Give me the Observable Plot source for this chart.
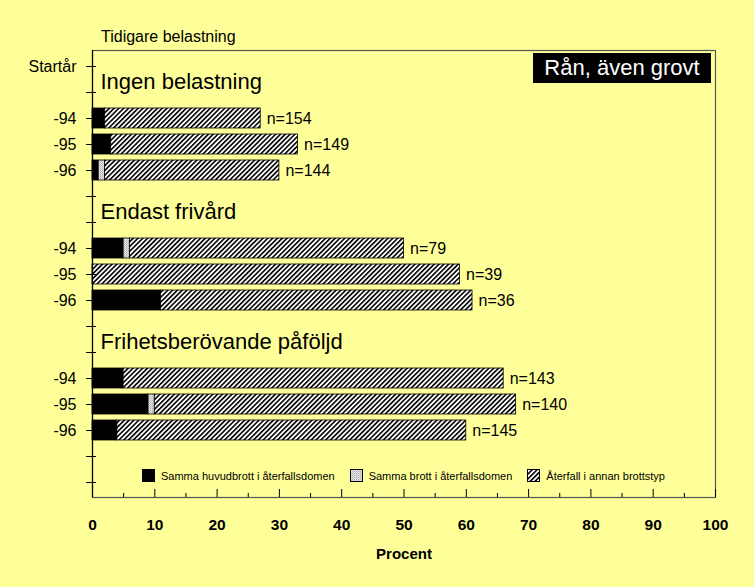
<!DOCTYPE html>
<html>
<head>
<meta charset="utf-8">
<script src="https://cdn.jsdelivr.net/npm/d3@7"></script>
<script src="https://cdn.jsdelivr.net/npm/@observablehq/plot@0.6"></script>
<style>
  body { margin: 0; background: #FFFF99; }
  #wrap { position: relative; width: 754px; height: 587px; background: #FFFF99; font-family: Arial, "Liberation Sans", sans-serif; color: black; overflow: hidden; }
  #subtitle { position: absolute; left: 101px; top: 28px; font-size: 16px; line-height: 18px; }
  #badge { position: absolute; left: 533px; top: 53px; width: 178px; height: 30px; background: black; color: white; font-size: 22px; line-height: 30px; text-align: center; }
  #legend { position: absolute; left: 142px; top: 469px; display: flex; gap: 15px; align-items: center; font-size: 11px; }
  #legend .item { display: flex; align-items: center; gap: 6px; }
  #legend svg { display: block; }
</style>
</head>
<body>
<svg width="0" height="0" style="position:absolute">
  <defs>
    <pattern id="hatch" patternUnits="userSpaceOnUse" width="3.4" height="3.4" patternTransform="rotate(45)">
      <rect width="3.4" height="3.4" fill="white"/>
      <rect width="1.6" height="3.4" fill="black"/>
    </pattern>
    <pattern id="dots" patternUnits="userSpaceOnUse" width="2" height="2">
      <rect width="2" height="2" fill="#e8e8e8"/>
      <rect width="1" height="1" fill="#a8a8a8"/>
      <rect x="1" y="1" width="1" height="1" fill="#c8c8c8"/>
    </pattern>
  </defs>
</svg>
<div id="wrap">
  <div id="subtitle">Tidigare belastning</div>
  <div id="badge">Rån, även grovt</div>
  <div id="legend"></div>
</div>
<script>
// ---- data ----
const groups = ["Ingen belastning", "Endast frivård", "Frihetsberövande påföljd"];
const years = ["-94", "-95", "-96"];
const sammaHuvudbrott = [2, 3, 1, 5, 0, 11, 5, 9, 4];
const sammaBrott = [0, 0, 1, 1, 0, 0, 0, 1, 0];
const annanBrottstyp = [25, 30, 28, 44, 59, 50, 61, 58, 56];
const nValues = [154, 149, 144, 79, 39, 36, 143, 140, 145];
const xTicks = [0, 10, 20, 30, 40, 50, 60, 70, 80, 90, 100];
const xMinorTicks = [5, 15, 25, 35, 45, 55, 65, 75, 85, 95];
const legendLabels = ["Samma huvudbrott i återfallsdomen", "Samma brott i återfallsdomen", "Återfall i annan brottstyp"];
const legendFills = ["black", "url(#dots)", "url(#hatch)"];
const yAxisTitle = "Startår";
const xAxisTitle = "Procent";

// ---- row layout (band categories) ----
const rows = [];
groups.forEach((g, gi) => {
  rows.push({key: `g${gi}a`, label: gi === 0 ? yAxisTitle : ""});
  rows.push({key: `g${gi}b`, label: ""});
  years.forEach(y => rows.push({key: `g${gi}${y}`, label: y}));
});
rows.push({key: "end1", label: ""});
rows.push({key: "end2", label: ""});
const labelMap = new Map(rows.map(r => [r.key, r.label]));

const bars = sammaHuvudbrott.map((s, i) => {
  const gi = Math.floor(i / 3), yi = i % 3;
  const b = sammaBrott[i], a = annanBrottstyp[i];
  return {row: `g${gi}${years[yi]}`, s, b, a, total: s + b + a, n: nValues[i]};
});
const segBlack = bars.filter(d => d.s > 0).map(d => ({row: d.row, x1: 0, x2: d.s}));
const segGray = bars.filter(d => d.b > 0).map(d => ({row: d.row, x1: d.s, x2: d.s + d.b}));
const segHatch = bars.filter(d => d.a > 0).map(d => ({row: d.row, x1: d.s + d.b, x2: d.total}));

const font = "Arial, 'Liberation Sans', sans-serif";

const chart = Plot.plot({
  width: 754,
  height: 587,
  marginLeft: 92,
  marginRight: 39,
  marginTop: 50,
  marginBottom: 90,
  style: {background: "transparent", fontFamily: font, color: "black", overflow: "visible"},
  x: {domain: [0, 100], axis: null, label: null},
  y: {domain: rows.map(r => r.key), paddingInner: 0.24, paddingOuter: 0.12, axis: null, label: null},
  marks: [
    Plot.frame({stroke: "#555", strokeWidth: 1.2}),
    Plot.barX(segBlack, {y: "row", x1: "x1", x2: "x2", fill: "black", stroke: "black", strokeWidth: 0.8}),
    Plot.barX(segGray, {y: "row", x1: "x1", x2: "x2", fill: "url(#dots)", stroke: "black", strokeWidth: 0.8}),
    Plot.barX(segHatch, {y: "row", x1: "x1", x2: "x2", fill: "url(#hatch)", stroke: "black", strokeWidth: 0.8}),
    Plot.ruleX([0], {stroke: "black", strokeWidth: 1.2}),
    Plot.axisY({tickSize: 6, tickPadding: 10, tickFormat: k => labelMap.get(k), fontSize: 16, label: null}),
    Plot.axisY({tickSize: -4, tickFormat: () => "", label: null}),
    Plot.axisX({ticks: xTicks, tickSize: -8, tickFormat: () => "", label: null}),
    Plot.axisX({ticks: xMinorTicks, tickSize: -4, tickFormat: () => "", label: null}),
    Plot.axisX({ticks: xTicks, tickSize: 0, tickPadding: 21, fontSize: 15.5, fontWeight: "bold", label: null}),
    Plot.text([xAxisTitle], {frameAnchor: "bottom", text: d => d, lineAnchor: "top", dy: 51, fontSize: 15, fontWeight: "bold"}),
    Plot.text(groups, {frameAnchor: "left", y: (g, i) => `g${i}b`, text: d => d, textAnchor: "start", dx: 8, dy: -11, fontSize: 22}),
    Plot.text(bars, {x: "total", y: "row", text: d => `n=${d.n}`, textAnchor: "start", dx: 6, fontSize: 16})
  ]
});
chart.style.position = "absolute";
chart.style.left = "0";
chart.style.top = "0";
document.getElementById("wrap").prepend(chart);

// ---- legend ----
const legend = document.getElementById("legend");
legendLabels.forEach((lab, i) => {
  const item = document.createElement("div");
  item.className = "item";
  item.innerHTML = `<svg width="13" height="13"><rect x="0.5" y="0.5" width="12" height="12" fill="${legendFills[i]}" stroke="black" stroke-width="1"/></svg><span>${lab}</span>`;
  legend.appendChild(item);
});
</script>
</body>
</html>
